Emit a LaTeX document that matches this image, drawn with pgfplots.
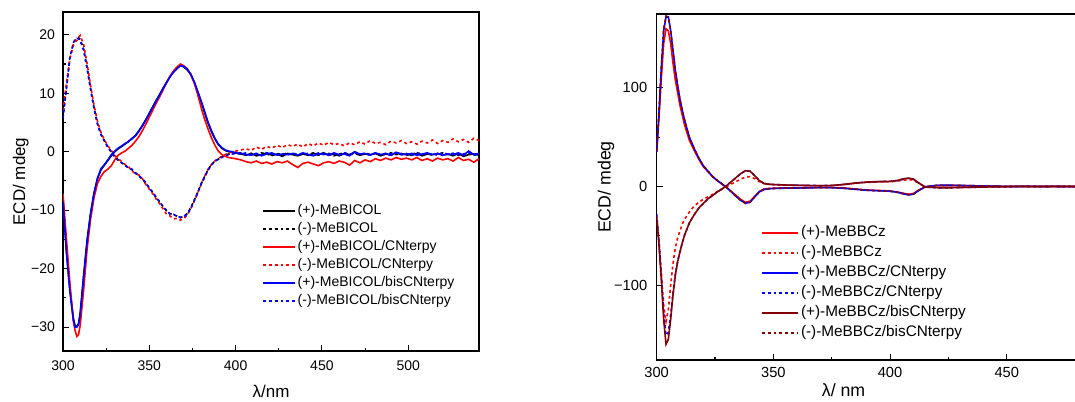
\documentclass[border=0pt]{standalone}
\usepackage{pgfplots}
\pgfplotsset{compat=1.18}
\usepackage{pgfplotstable}
\usepackage{fontspec}
\setmainfont{Liberation Sans}
\definecolor{dred}{RGB}{128,0,0}

\pgfplotstableread{
x bP bM rP rM uP uM
300 -8.3 5.9 -7.2 7.0 -8.5 5.7
302 -17.0 11.0 -15.0 11.8 -17.3 10.8
304 -23.5 16.0 -22.5 15.9 -24.0 16.2
306 -28.5 18.5 -29.0 18.2 -28.8 18.6
307 -29.8 19.1 -30.6 18.8 -30.0 19.2
308 -29.9 19.4 -31.6 19.0 -30.0 19.4
309 -29.4 19.5 -31.3 19.6 -29.6 19.3
310 -27.5 19.2 -29.6 19.9 -27.8 19.0
312 -21.0 17.5 -23.5 18.3 -21.4 17.3
314 -15.0 14.3 -16.5 15.0 -15.3 14.1
316 -10.5 10.8 -11.5 11.3 -10.6 10.6
318 -7.0 7.5 -7.8 7.9 -7.1 7.3
320 -4.6 4.8 -5.4 5.2 -4.5 4.7
322 -3.1 3.0 -4.2 3.3 -2.9 2.9
324 -2.3 1.9 -3.4 2.0 -2.2 1.8
326 -1.5 0.8 -3.0 1.0 -1.4 0.7
328 -0.7 0.0 -2.4 0.2 -0.5 -0.1
330 0.0 -0.8 -1.4 -0.6 0.1 -0.9
332 0.5 -1.4 -0.6 -1.2 0.6 -1.5
334 0.9 -1.9 -0.2 -1.7 1.0 -1.9
336 1.3 -2.3 0.1 -2.2 1.4 -2.4
338 1.8 -2.8 0.6 -2.6 1.7 -2.7
340 2.2 -3.1 1.1 -3.3 2.3 -3.0
342 2.8 -3.6 1.8 -3.8 2.7 -3.7
344 3.6 -4.1 2.6 -4.0 3.5 -4.2
346 4.5 -4.7 3.6 -4.6 4.4 -4.6
348 5.5 -5.4 4.7 -5.6 5.4 -5.3
350 6.6 -6.2 5.9 -6.4 6.5 -6.3
352 7.7 -7.0 7.1 -7.2 7.6 -6.9
354 8.8 -7.8 8.3 -8.1 8.7 -7.9
356 9.8 -8.6 9.4 -8.9 9.7 -8.5
358 10.9 -9.4 10.6 -9.8 10.8 -9.5
360 11.9 -10.1 11.8 -10.7 11.8 -10.0
362 12.9 -10.6 12.9 -11.0 12.8 -10.7
364 13.7 -10.8 13.8 -11.5 13.6 -10.7
366 14.3 -11.0 14.5 -11.4 14.2 -11.1
368 14.8 -11.3 15.0 -11.7 14.7 -11.2
370 14.5 -11.0 14.7 -11.5 14.6 -11.1
372 14.0 -10.6 14.2 -10.8 14.1 -10.7
374 13.2 -9.6 13.2 -9.8 13.3 -9.7
376 11.9 -8.3 11.8 -8.5 12.0 -8.4
378 10.2 -7.0 9.8 -7.1 10.4 -7.0
380 8.6 -5.5 7.6 -5.6 8.7 -5.6
382 6.7 -4.3 5.6 -4.2 6.9 -4.4
384 4.9 -3.1 3.9 -3.0 5.1 -3.2
386 3.4 -2.2 2.4 -2.2 3.6 -2.3
388 2.2 -1.6 1.1 -1.6 2.3 -1.7
390 1.2 -1.3 0.1 -1.1 1.3 -1.2
392 0.6 -0.9 -0.5 -0.8 0.7 -1.0
394 0.2 -0.6 -0.8 -0.5 0.3 -0.7
396 0.0 -0.4 -1.0 -0.2 0.1 -0.5
398 -0.1 -0.3 -1.1 0.0 0.0 -0.4
400 -0.2 -0.3 -1.2 0.1 -0.2 -0.3
403 -0.4 -0.2 -1.4 0.3 -0.3 -0.4
406 -0.6 -0.5 -1.7 0.5 -0.5 -0.2
409 -0.3 -0.3 -1.9 0.2 -0.6 -0.5
412 -0.7 -0.6 -1.6 0.8 -0.3 -0.3
415 -0.5 -0.2 -2.0 0.4 -0.7 -0.6
418 -0.2 -0.4 -1.8 0.9 -0.4 -0.2
421 -0.6 -0.7 -2.1 0.6 -0.2 -0.4
424 -0.4 -0.3 -1.7 1.1 -0.6 -0.5
427 -0.8 -0.5 -1.9 0.7 -0.4 -0.3
430 -0.3 -0.2 -1.6 1.2 -0.5 -0.6
433 -0.5 -0.6 -2.2 0.9 -0.3 -0.2
436 -0.7 -0.4 -2.7 1.3 -0.6 -0.5
439 -0.4 -0.3 -2.0 0.8 -0.2 -0.4
442 -0.6 -0.5 -1.8 1.4 -0.5 -0.3
445 -0.3 -0.2 -2.1 1.0 -0.7 -0.6
448 -0.5 -0.6 -2.4 1.5 -0.4 -0.2
451 -0.2 -0.4 -1.9 1.1 -0.3 -0.5
454 -0.6 -0.3 -1.7 1.6 -0.6 -0.4
457 -0.4 -0.7 -2.0 1.2 -0.2 -0.3
460 -0.7 -0.4 -1.6 1.4 -0.5 -0.6
463 -0.3 -0.2 -1.8 1.0 -0.4 -0.2
466 -0.5 -0.5 -2.3 1.5 -0.7 -0.5
469 -0.1 -0.3 -1.5 1.2 0.0 -0.2
472 -0.6 -0.6 -1.9 1.7 -0.4 -0.4
475 -0.4 -0.2 -1.4 1.3 -0.3 -0.3
478 -0.5 -0.5 -1.7 1.9 -0.6 -0.6
481 -0.3 -0.3 -1.2 1.4 -0.2 -0.2
484 -0.7 -0.6 -1.5 1.6 -0.5 -0.5
487 -0.4 -0.4 -1.1 1.2 -0.3 -0.3
490 -0.6 -0.2 -1.4 1.8 -0.6 -0.4
493 -0.2 -0.5 -1.0 1.5 -0.1 -0.2
496 -0.5 -0.3 -1.3 1.9 -0.4 -0.5
499 -0.4 -0.6 -1.1 1.4 -0.5 -0.3
502 -0.6 -0.4 -1.4 1.7 -0.3 -0.6
505 -0.3 -0.2 -1.0 1.3 -0.6 -0.2
508 -0.7 -0.5 -1.5 1.8 -0.4 -0.4
511 -0.4 -0.3 -1.2 1.5 -0.2 -0.5
514 -0.5 -0.6 -1.6 2.0 -0.5 -0.3
517 -0.3 -0.4 -1.1 1.4 -0.3 -0.6
520 -0.6 -0.2 -1.4 1.9 -0.6 -0.2
523 -0.4 -0.5 -1.2 1.6 -0.4 -0.4
526 -0.7 -0.3 -1.6 2.2 -0.5 -0.3
529 -0.3 -0.6 -1.0 1.7 -0.2 -0.5
532 -0.8 -0.4 -1.5 2.1 -0.6 -0.4
535 -0.5 -0.2 -1.3 1.6 0.1 -0.2
538 -0.4 -0.5 -1.8 2.3 -0.5 -0.6
541 -0.6 -0.3 -1.2 1.9 -0.3 -0.4
}\leftdata

\pgfplotstableread{
x rP rM uP uM dP dM
300 35 -30 35 -28 -31 36
301 70 -55 75 -55 -60 78
302 110 -88 120 -90 -95 122
303 145 -120 158 -128 -135 160
304 160 -137 172 -151 -160 173
305 158 -125 172 -148 -155 172
306 145 -100 158 -130 -135 158
307 125 -78 138 -108 -110 138
308 108 -62 118 -89 -90 118
309 95 -52 102 -76 -76 102
310 82 -45 88 -66 -66 88
311 72 -38 77 -57 -57 77
312 62 -33 67 -49 -49 67
314 47 -26 50 -37 -37 50
316 37 -20 39 -29 -29 39
318 28 -16 29 -22 -22 29
320 20 -13 21 -17 -17 21
322 15 -10.5 15.5 -12.5 -12.5 15.5
324 10 -8 10 -9 -9 10
326 6 -5 6 -5.5 -5.5 6
328 2.5 -2.5 2.5 -2.5 -2.5 2.5
330 -1 0 -1 1 1 -1
332 -5 2.5 -5.5 5 5 -5.5
334 -9 5 -10 9 9 -10
336 -13 7.5 -14 13 13 -14
338 -16 9.5 -17 16 16 -17
340 -15 10 -16 15.5 15.5 -16
342 -10 8 -10.5 11 11 -10.5
344 -5 5 -5.5 6 6 -5.5
346 -2.5 3 -3 3 3 -3
348 -2 2.3 -2.3 2.3 2.3 -2.3
350 -1.8 2 -2 2 2 -2
355 -1.5 1.5 -1.7 1.6 1.5 -1.6
360 -1.5 1.2 -1.5 1.3 1.2 -1.4
365 -1.2 1 -1.3 1.1 1 -1.2
370 -1 0.8 -1.1 0.9 0.8 -1
375 -1 1 -1.2 1.1 1 -1.1
380 -1.5 2 -1.8 2.1 2 -1.7
385 -2.5 3.2 -2.8 3.4 3.5 -2.7
390 -3.5 4.2 -3.8 4.5 4.5 -3.9
395 -4 4.6 -4.3 4.9 5 -4.4
400 -4.5 4.8 -4.8 5.2 5.2 -4.9
403 -5.5 5.5 -5.8 6 6 -5.9
406 -7 6.5 -7.5 7.5 8 -7.6
408 -7.8 7 -8.5 8.3 8.5 -8.4
410 -7.2 6.5 -7.8 7.5 7.5 -7.7
412 -4 3.5 -4.5 4 4 -4.3
415 -0.5 0 -0.3 -0.5 -0.5 -0.2
420 1 -0.8 1.2 -1.2 -1.2 1.1
425 1 -1 1.3 -1.3 -1.3 1.2
430 1 -0.9 1.1 -1 -1 1
435 0.8 -0.7 0.8 -0.8 -0.8 0.8
440 0.5 -0.5 0.5 -0.5 -0.5 0.5
445 0.3 -0.3 0.3 -0.3 -0.3 0.3
450 0 -0.2 0.1 -0.2 -0.1 0
455 0.2 0 0 0.1 0.2 -0.1
460 0 0.1 0.2 0 -0.1 0.1
465 -0.1 0 0 -0.1 0.1 0
470 0.1 -0.1 0.1 0.1 0 0.1
475 0 0.1 -0.1 0 0.1 0
482 0 0 0 0 0 0
}\rightdata

\pgfplotsset{
  ecdaxis/.style={
    scale only axis,
    axis line style={line width=0.9pt},
    tick align=inside,
    tick pos=left,
    major tick length=4.5pt,
    minor tick length=2.5pt,
    every tick/.style={black, line width=0.8pt},
    minor x tick num=1,
    minor y tick num=1,
    /pgf/number format/assume math mode=true,
    legend cell align=left,
  },
  sol/.style={line width=1.2pt},
  das/.style={line width=1.2pt, dash pattern=on 2.2pt off 2.2pt},
}

\begin{document}
\begin{tikzpicture}
\useasboundingbox (0pt,0pt) rectangle (806.25pt,300.75pt);
\begin{scope}
\clip (0pt,0pt) rectangle (806.25pt,300.75pt);

\begin{axis}[ecdaxis,
  at={(47.25pt,37.5pt)}, anchor=south west,
  width=312pt, height=254.25pt,
  xmin=300, xmax=541, ymin=-34.1, ymax=23.9,
  xtick={300,350,400,450,500},
  ytick={-30,-20,-10,0,10,20},
  yticklabels={−30,−20,−10,0,10,20},
  tick label style={font=\fontsize{10.5}{12}\selectfont},
  xticklabel style={yshift=-3.5pt},
  yticklabel style={xshift=-2.5pt},
  xlabel={λ/nm}, ylabel={ECD/ mdeg},
  label style={font=\fontsize{12.75}{14}\selectfont},
  xlabel style={at={(axis description cs:0.5,-0.137)}, anchor=base},
  ylabel style={at={(axis description cs:-0.0913,0.5)}, anchor=base},
  legend style={at={(rel axis cs:0.478,0.4336)}, anchor=north west, draw=none, fill=none,
    font=\fontsize{10.5}{12}\selectfont, inner sep=0pt, row sep=3.5pt,
    nodes={inner xsep=1.5pt, inner ysep=0pt, text height=7.5pt, text depth=2.5pt}},
  legend image code/.code={\draw[#1] (0pt,0pt) -- (24pt,0pt);},
]
\addplot[sol, black] table[x=x, y=bP] {\leftdata};
\addlegendentry{(+)-MeBICOL}
\addplot[das, black] table[x=x, y=bM] {\leftdata};
\addlegendentry{(-)-MeBICOL}
\addplot[sol, red] table[x=x, y=rP] {\leftdata};
\addlegendentry{(+)-MeBICOL/CNterpy}
\addplot[das, red] table[x=x, y=rM] {\leftdata};
\addlegendentry{(-)-MeBICOL/CNterpy}
\addplot[sol, blue] table[x=x, y=uP] {\leftdata};
\addlegendentry{(+)-MeBICOL/bisCNterpy}
\addplot[das, blue] table[x=x, y=uM] {\leftdata};
\addlegendentry{(-)-MeBICOL/bisCNterpy}
\end{axis}

\begin{axis}[ecdaxis,
  at={(492.5pt,30.75pt)}, anchor=south west,
  width=318.6pt, height=259.5pt,
  xmin=300, xmax=482, ymin=-176, ymax=175,
  xtick={300,350,400,450},
  ytick={-100,0,100},
  yticklabels={−100,0,100},
  tick label style={font=\fontsize{11}{13}\selectfont},
  xticklabel style={yshift=-2.1pt},
  yticklabel style={xshift=-3.6pt},
  xlabel={λ/ nm}, ylabel={ECD/ mdeg},
  label style={font=\fontsize{13.3}{15}\selectfont},
  xlabel style={at={(axis description cs:0.44,-0.105)}, anchor=base},
  ylabel style={at={(axis description cs:-0.1083,0.5)}, anchor=base},
  legend style={at={(rel axis cs:0.245,0.3887)}, anchor=north west, draw=none, fill=none,
    font=\fontsize{11.5}{13}\selectfont, inner sep=0pt, row sep=4.0pt,
    nodes={inner xsep=1.8pt, inner ysep=0pt, text height=8.3pt, text depth=2.7pt}},
  legend image code/.code={\draw[#1] (0pt,0pt) -- (27pt,0pt);},
]
\addplot[sol, red] table[x=x, y=rP] {\rightdata};
\addlegendentry{(+)-MeBBCz}
\addplot[das, red] table[x=x, y=rM] {\rightdata};
\addlegendentry{(-)-MeBBCz}
\addplot[sol, blue] table[x=x, y=uP] {\rightdata};
\addlegendentry{(+)-MeBBCz/CNterpy}
\addplot[das, blue] table[x=x, y=uM] {\rightdata};
\addlegendentry{(-)-MeBBCz/CNterpy}
\addplot[sol, dred] table[x=x, y=dP] {\rightdata};
\addlegendentry{(+)-MeBBCz/bisCNterpy}
\addplot[das, dred] table[x=x, y=dM] {\rightdata};
\addlegendentry{(-)-MeBBCz/bisCNterpy}
\end{axis}
\end{scope}
\end{tikzpicture}
\end{document}
